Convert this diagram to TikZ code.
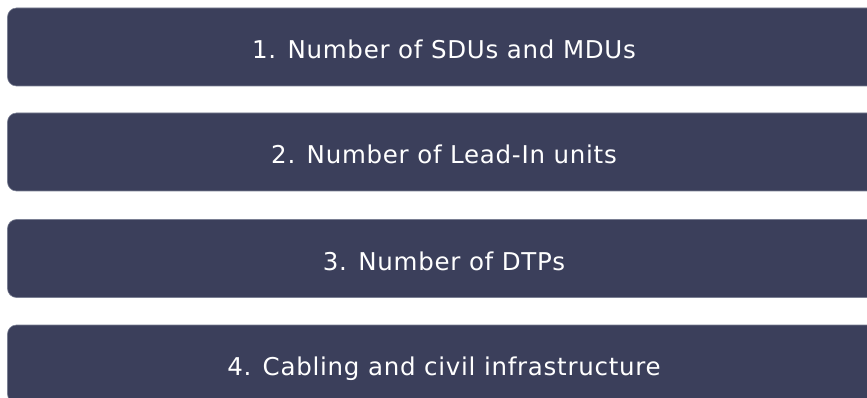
\documentclass[tikz,border=0pt]{standalone}
\usepackage{fontspec}
\setmainfont{DejaVu Sans}[LetterSpace=3]
\definecolor{boxfill}{HTML}{3B3F5B}
\definecolor{boxline}{HTML}{7A7F93}
\begin{document}
\begin{tikzpicture}[x=1pt,y=-1pt,
  bar/.style={fill=boxfill,draw=boxline,line width=0.6pt,rounded corners=9pt},
  lbl/.style={text=white,font=\fontsize{24.5}{28}\selectfont,inner sep=0pt,anchor=base}]
\useasboundingbox (0,0) rectangle (867,398);
\begin{scope}
\clip (0,0) rectangle (867,398);
\draw[bar] (7.5,8) rectangle (890,86);
\draw[bar] (7.5,113) rectangle (890,191);
\draw[bar] (7.5,219.5) rectangle (890,297.5);
\draw[bar] (7.5,325) rectangle (890,403);
\end{scope}
\node[lbl] (t1) at (444,58.5) {1. Number of SDUs and MDUs};
\node[lbl] (t2) at (444,163.5) {2. Number of Lead-In units};
\node[lbl] (t3) at (444,270) {3. Number of DTPs};
\node[lbl] (t4) at (444,375.5) {4. Cabling and civil infrastructure};
\end{tikzpicture}
\end{document}
